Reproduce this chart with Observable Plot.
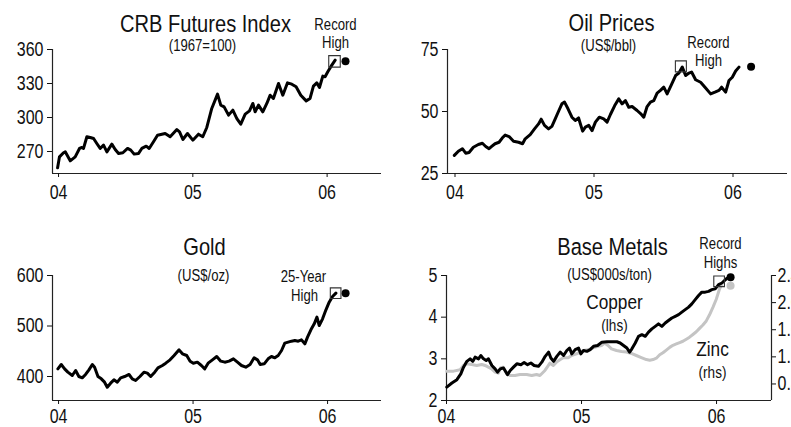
<!DOCTYPE html>
<html><head><meta charset="utf-8">
<script src="https://cdn.jsdelivr.net/npm/d3@7"></script>
<script src="https://cdn.jsdelivr.net/npm/@observablehq/plot@0.6"></script>
<style>
html,body{margin:0;padding:0;background:#fff;overflow:hidden}
#wrap{position:relative;width:791px;height:427px;overflow:hidden;background:#fff}
.pn{position:absolute}
</style></head><body><div id="wrap"></div>
<script>
// ---------- data ----------
const yearTicks = [2004, 2005, 2006];
const yearLabels = ["04", "05", "06"];

const crb = [[2003.993,255.6],[2004.007,265.3],[2004.037,268.9],[2004.050,269.7],[2004.087,261.8],[2004.124,265.3],[2004.156,272.7],[2004.174,273.6],[2004.186,272.7],[2004.211,283.0],[2004.236,282.4],[2004.261,281.5],[2004.285,277.1],[2004.310,272.7],[2004.335,275.6],[2004.360,269.7],[2004.397,276.5],[2004.422,271.8],[2004.447,268.3],[2004.479,268.9],[2004.514,272.7],[2004.538,271.2],[2004.563,267.7],[2004.596,268.3],[2004.620,272.7],[2004.653,274.7],[2004.675,272.7],[2004.707,278.6],[2004.737,284.4],[2004.794,285.9],[2004.831,283.0],[2004.881,289.4],[2004.901,287.4],[2004.926,280.6],[2004.960,285.9],[2005.000,280.0],[2005.042,285.3],[2005.074,283.0],[2005.104,291.2],[2005.141,308.0],[2005.184,320.6],[2005.208,310.9],[2005.233,309.4],[2005.266,302.1],[2005.298,306.5],[2005.328,299.1],[2005.357,294.1],[2005.390,303.0],[2005.422,305.9],[2005.447,312.4],[2005.464,305.0],[2005.489,310.9],[2005.521,305.0],[2005.551,312.4],[2005.576,319.7],[2005.600,316.8],[2005.638,330.0],[2005.670,319.7],[2005.705,330.6],[2005.737,329.4],[2005.769,327.1],[2005.804,319.7],[2005.844,314.7],[2005.873,316.8],[2005.898,327.7],[2005.923,330.6],[2005.943,326.5],[2005.968,336.5],[2005.985,335.9],[2006.005,340.3],[2006.035,346.2],[2006.060,350.6]];
const crbBox = [2006.055, 349.5];
const crbLatest = [2006.137, 349.7];
const crbTicks = [270, 300, 330, 360];

const oil = [[2003.995,32.3],[2004.024,34.0],[2004.053,35.0],[2004.077,33.2],[2004.101,33.5],[2004.132,35.6],[2004.168,36.7],[2004.197,37.2],[2004.221,35.9],[2004.245,35.0],[2004.264,35.9],[2004.288,37.0],[2004.317,37.6],[2004.341,39.4],[2004.361,40.5],[2004.389,39.9],[2004.421,38.0],[2004.457,37.6],[2004.486,37.0],[2004.505,39.0],[2004.541,40.7],[2004.572,43.0],[2004.601,45.0],[2004.620,46.9],[2004.644,44.4],[2004.673,43.0],[2004.697,44.0],[2004.721,47.0],[2004.745,50.1],[2004.769,53.1],[2004.788,53.8],[2004.813,51.1],[2004.841,47.7],[2004.865,46.4],[2004.889,47.4],[2004.918,42.1],[2004.938,43.7],[2004.962,44.4],[2004.986,42.3],[2005.010,45.7],[2005.038,47.7],[2005.070,47.0],[2005.094,45.7],[2005.118,48.8],[2005.149,52.4],[2005.178,55.1],[2005.202,53.1],[2005.226,54.4],[2005.250,51.7],[2005.274,52.0],[2005.310,50.4],[2005.341,48.8],[2005.358,47.7],[2005.382,52.0],[2005.406,53.8],[2005.430,54.4],[2005.454,57.4],[2005.478,58.5],[2005.502,59.8],[2005.526,57.1],[2005.558,60.9],[2005.587,64.5],[2005.611,65.5],[2005.635,67.9],[2005.659,64.5],[2005.683,65.5],[2005.702,65.9],[2005.731,62.8],[2005.767,61.8],[2005.803,59.5],[2005.839,57.1],[2005.870,57.8],[2005.899,58.5],[2005.918,59.8],[2005.947,57.8],[2005.971,62.5],[2005.995,63.8],[2006.019,66.3],[2006.043,67.9]];
const oilBox = [2005.625, 68.2];
const oilLatest = [2006.13, 68.0];
const oilTicks = [25, 50, 75];

const gold = [[2003.995,415.2],[2004.020,423.8],[2004.045,415.2],[2004.069,408.6],[2004.102,402.0],[2004.127,411.9],[2004.151,400.0],[2004.176,397.4],[2004.201,404.0],[2004.226,413.2],[2004.251,423.8],[2004.268,418.5],[2004.293,400.0],[2004.318,395.4],[2004.342,388.8],[2004.362,378.9],[2004.387,386.8],[2004.412,393.4],[2004.437,388.8],[2004.462,397.4],[2004.491,400.0],[2004.524,404.0],[2004.548,395.4],[2004.573,392.1],[2004.605,400.0],[2004.635,408.6],[2004.660,406.6],[2004.685,400.0],[2004.715,408.6],[2004.739,417.2],[2004.772,421.8],[2004.797,426.4],[2004.829,433.0],[2004.859,441.6],[2004.896,452.8],[2004.921,444.9],[2004.953,441.6],[2004.978,430.4],[2005.002,426.4],[2005.032,428.4],[2005.062,421.8],[2005.087,415.2],[2005.112,426.4],[2005.144,433.0],[2005.176,439.6],[2005.206,430.4],[2005.236,428.4],[2005.268,430.4],[2005.300,435.0],[2005.330,428.4],[2005.360,421.8],[2005.392,418.5],[2005.424,423.8],[2005.454,437.0],[2005.479,433.0],[2005.499,423.8],[2005.529,425.1],[2005.558,435.0],[2005.583,439.6],[2005.608,437.0],[2005.633,441.6],[2005.658,451.5],[2005.682,466.0],[2005.707,468.0],[2005.732,470.0],[2005.757,471.3],[2005.782,470.0],[2005.806,472.6],[2005.831,464.7],[2005.851,477.9],[2005.876,492.4],[2005.901,504.3],[2005.921,517.5],[2005.938,501.0],[2005.963,514.2],[2005.988,532.0],[2006.012,547.2],[2006.037,558.4],[2006.062,565.0]];
const goldBox = [2006.06, 565];
const goldLatest = [2006.134, 565];
const goldTicks = [400, 500, 600];

const copper = [[2004.002,2.32],[2004.040,2.42],[2004.077,2.50],[2004.106,2.64],[2004.126,2.80],[2004.151,2.94],[2004.175,3.00],[2004.195,2.94],[2004.212,3.04],[2004.237,3.00],[2004.254,3.08],[2004.274,3.00],[2004.294,2.96],[2004.311,3.00],[2004.336,2.84],[2004.360,2.76],[2004.378,2.68],[2004.398,2.76],[2004.422,2.78],[2004.452,2.62],[2004.472,2.72],[2004.496,2.80],[2004.521,2.88],[2004.551,2.86],[2004.575,2.91],[2004.600,2.86],[2004.625,2.90],[2004.649,2.84],[2004.681,2.82],[2004.706,2.92],[2004.731,3.06],[2004.756,3.16],[2004.773,3.02],[2004.793,2.94],[2004.817,3.06],[2004.842,3.16],[2004.867,3.08],[2004.891,3.20],[2004.911,3.26],[2004.928,3.12],[2004.953,3.22],[2004.978,3.26],[2004.995,3.12],[2005.015,3.20],[2005.040,3.18],[2005.064,3.22],[2005.089,3.30],[2005.119,3.32],[2005.151,3.40],[2005.188,3.41],[2005.225,3.41],[2005.262,3.41],[2005.286,3.38],[2005.311,3.32],[2005.336,3.26],[2005.356,3.16],[2005.373,3.24],[2005.398,3.38],[2005.422,3.54],[2005.447,3.58],[2005.472,3.54],[2005.496,3.64],[2005.521,3.72],[2005.546,3.78],[2005.570,3.84],[2005.595,3.78],[2005.620,3.86],[2005.644,3.92],[2005.669,3.98],[2005.694,4.02],[2005.719,4.06],[2005.743,4.12],[2005.768,4.18],[2005.793,4.24],[2005.817,4.32],[2005.842,4.42],[2005.867,4.52],[2005.891,4.60],[2005.916,4.60],[2005.941,4.62],[2005.965,4.66],[2005.990,4.68],[2006.015,4.78],[2006.040,4.82],[2006.072,4.92],[2006.091,4.96]];
const zinc = [[2004.002,0.989],[2004.052,0.989],[2004.101,1.009],[2004.126,1.073],[2004.150,1.097],[2004.187,1.087],[2004.224,1.073],[2004.261,1.087],[2004.286,1.073],[2004.310,1.048],[2004.335,1.023],[2004.360,0.974],[2004.384,0.960],[2004.401,1.038],[2004.421,1.048],[2004.446,0.950],[2004.470,0.925],[2004.507,0.925],[2004.544,0.940],[2004.594,0.940],[2004.631,0.925],[2004.667,0.940],[2004.692,0.925],[2004.729,0.999],[2004.746,1.048],[2004.766,1.107],[2004.791,1.073],[2004.815,1.122],[2004.840,1.156],[2004.865,1.186],[2004.901,1.186],[2004.926,1.220],[2004.963,1.245],[2004.988,1.269],[2005.012,1.294],[2005.049,1.304],[2005.086,1.333],[2005.116,1.353],[2005.148,1.368],[2005.172,1.402],[2005.197,1.368],[2005.222,1.318],[2005.259,1.294],[2005.296,1.280],[2005.333,1.270],[2005.369,1.250],[2005.406,1.220],[2005.443,1.190],[2005.480,1.160],[2005.505,1.150],[2005.530,1.160],[2005.554,1.180],[2005.579,1.230],[2005.603,1.260],[2005.628,1.300],[2005.653,1.340],[2005.677,1.370],[2005.702,1.390],[2005.727,1.410],[2005.751,1.430],[2005.776,1.460],[2005.800,1.490],[2005.825,1.530],[2005.850,1.570],[2005.874,1.620],[2005.899,1.670],[2005.924,1.730],[2005.948,1.820],[2005.973,1.930],[2005.998,2.050],[2006.022,2.200],[2006.035,2.250]];
const metalsBox = [2006.019, 4.86];
const copperLatest = [2006.104, 4.96];
const zincLatest = [2006.104, 2.25];
const copperTicks = [2, 3, 4, 5];
const zincTicks = [0.8, 1.2, 1.6, 2.0, 2.4];

// ---------- helpers ----------
const FONT = '"Liberation Sans", Arial, sans-serif';
const NARROW = 0.82; // condensed look, like a narrow face
const TICK_FS = 19.5;
const X = d => d[0], Y = d => d[1];

function condense(svg) {
  svg.querySelectorAll("text").forEach(t => {
    const len = t.getComputedTextLength();
    if (len > 0) {
      t.setAttribute("textLength", (len * NARROW).toFixed(2));
      t.setAttribute("lengthAdjust", "spacingAndGlyphs");
    }
  });
}

function panel(c) {
  const texts = c.texts.map(([s, cx, base, fs, fill]) =>
    Plot.text([s], {text: d => d, frameAnchor: "top-left", dx: cx - c.mL, dy: base - 0.71 * fs - c.mT,
      textAnchor: "middle", lineAnchor: "top", fontSize: fs, fill: fill || "#111"}));
  const svg = Plot.plot({
    width: c.width, height: c.height,
    marginLeft: c.mL, marginRight: c.mR, marginTop: c.mT, marginBottom: c.mB,
    x: {domain: c.xDomain}, y: {domain: c.yDomain},
    style: {fontFamily: FONT, background: "transparent", color: "#111", overflow: "visible"},
    marks: [
      Plot.ruleX([c.xDomain[0]], {stroke: "#222", strokeWidth: 1.2}),
      Plot.ruleY([c.yDomain[0]], {stroke: "#222", strokeWidth: 1.2}),
      Plot.axisX({ticks: yearTicks, tickFormat: d => yearLabels[yearTicks.indexOf(d)], tickSize: 4, tickPadding: c.xPad, fontSize: TICK_FS}),
      Plot.axisY({ticks: c.yTicks, tickFormat: d => String(d), tickSize: 5, tickPadding: 4, fontSize: TICK_FS}),
      ...c.marks,
      ...texts
    ]
  });
  const div = document.createElement("div");
  div.className = "pn";
  div.style.left = c.left + "px";
  div.style.top = c.top + "px";
  div.appendChild(svg);
  document.getElementById("wrap").appendChild(div);
  condense(svg);
}

function highlight(box, latest, r) {
  return [
    Plot.dot([box], {x: X, y: Y, symbol: "square", r: r, stroke: "#333", strokeWidth: 1.1, fill: "none"}),
    Plot.dot([latest], {x: X, y: Y, r: 4, fill: "#000"})
  ];
}

// ---------- panel 1: CRB ----------
panel({
  left: 0, top: 0, width: 395, height: 210, mL: 52, mR: 14, mT: 49, mB: 37, xPad: 8,
  xDomain: [2003.955, 2006.405], yDomain: [250.6, 360], yTicks: crbTicks,
  marks: [Plot.line(crb, {x: X, y: Y, stroke: "#000", strokeWidth: 3, strokeLinejoin: "round"}), ...highlight(crbBox, crbLatest, 6.5)],
  texts: [["CRB Futures Index", 205, 31, 24.5], ["(1967=100)", 202, 50.5, 16], ["Record", 335, 29.5, 16], ["High", 335, 47.5, 16]]
});

// ---------- panel 2: Oil ----------
panel({
  left: 395, top: 0, width: 396, height: 210, mL: 52, mR: 4, mT: 49, mB: 37, xPad: 8,
  xDomain: [2003.946, 2006.392], yDomain: [25, 75], yTicks: oilTicks,
  marks: [Plot.line(oil, {x: X, y: Y, stroke: "#000", strokeWidth: 3, strokeLinejoin: "round"}), ...highlight(oilBox, oilLatest, 6.2)],
  texts: [["Oil Prices", 216, 30.5, 24.5], ["(US$/bbl)", 213, 50.5, 16], ["Record", 313, 47.5, 16], ["High", 313, 65.5, 16]]
});

// ---------- panel 3: Gold ----------
panel({
  left: 0, top: 215, width: 395, height: 212, mL: 52, mR: 14, mT: 60, mB: 27, xPad: 5,
  xDomain: [2003.955, 2006.401], yDomain: [352.5, 600], yTicks: goldTicks,
  marks: [Plot.line(gold, {x: X, y: Y, stroke: "#000", strokeWidth: 3, strokeLinejoin: "round"}), ...highlight(goldBox, goldLatest, 6)],
  texts: [["Gold", 204, 39, 24.5], ["(US$/oz)", 203, 65, 16], ["25-Year", 303, 66.5, 16], ["High", 304, 85, 16]]
});

// ---------- panel 4: Base metals (dual axis) ----------
const zMin = 0.556, zMax = 2.4;
const toCu = z => 2 + (z - zMin) * 3 / (zMax - zMin);
const zincCu = zinc.map(d => [d[0], toCu(d[1])]);
const zincTickPos = zincTicks.map(toCu);
panel({
  left: 395, top: 215, width: 396, height: 212, mL: 51, mR: 20, mT: 60, mB: 27, xPad: 5,
  xDomain: [2004, 2006.407], yDomain: [2, 5], yTicks: copperTicks,
  marks: [
    Plot.ruleX([2006.407], {stroke: "#222", strokeWidth: 1.2}),
    Plot.axisY({anchor: "right", ticks: zincTickPos, tickFormat: d => zincTicks[zincTickPos.indexOf(d)].toFixed(1), tickSize: 4, tickPadding: 2, fontSize: TICK_FS}),
    Plot.line(zincCu, {x: X, y: Y, stroke: "#c4c4c4", strokeWidth: 3, strokeLinejoin: "round"}),
    Plot.line(copper, {x: X, y: Y, stroke: "#000", strokeWidth: 3, strokeLinejoin: "round"}),
    Plot.dot([[zincLatest[0], toCu(zincLatest[1])]], {x: X, y: Y, r: 4, fill: "#c4c4c4"}),
    ...highlight(metalsBox, copperLatest, 6)
  ],
  texts: [["Base Metals", 217, 39, 24.5], ["(US$000s/ton)", 214, 64.5, 16], ["Record", 325, 33.5, 16], ["Highs", 325, 52, 16],
          ["Copper", 219, 93, 21], ["(lhs)", 219, 115, 16.5], ["Zinc", 317, 140, 21], ["(rhs)", 317, 162, 16.5]]
});
</script></body></html>
